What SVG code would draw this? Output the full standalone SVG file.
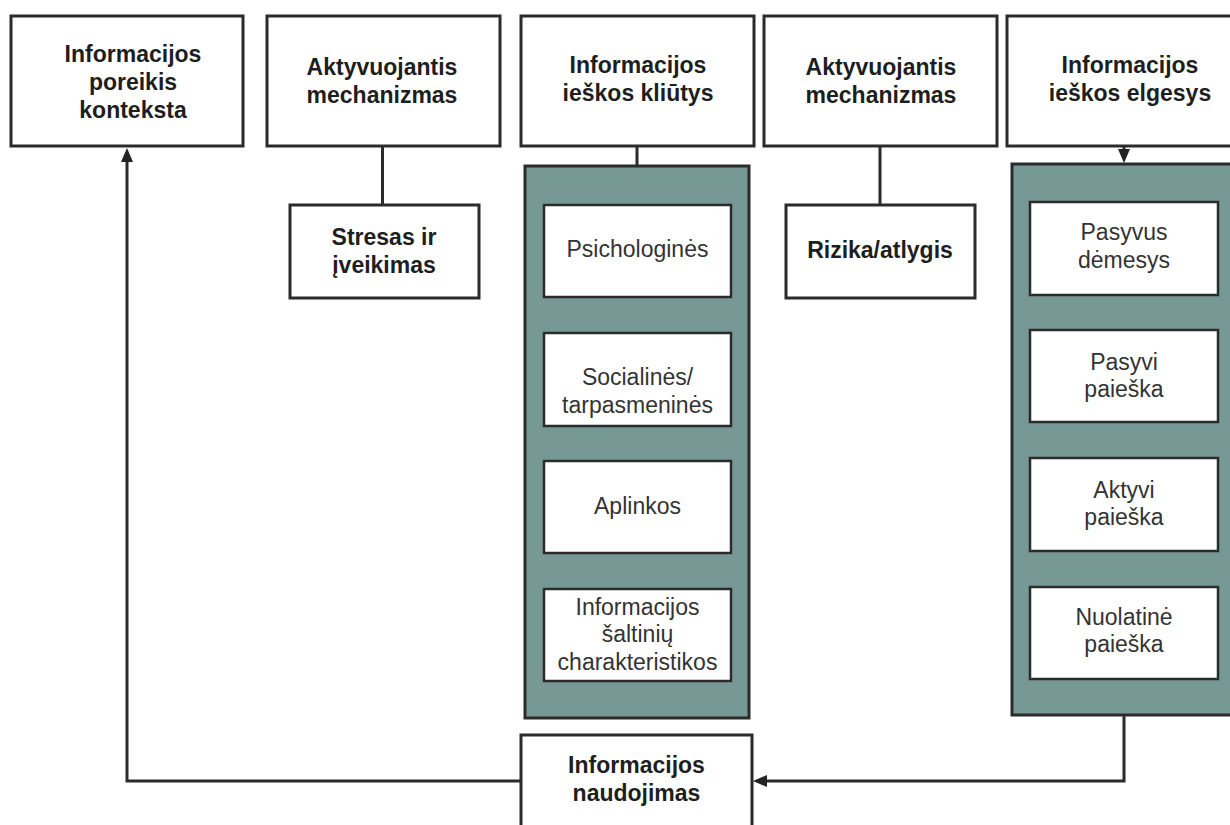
<svg xmlns="http://www.w3.org/2000/svg" width="1230" height="825" viewBox="0 0 1230 825">
<style>
.box{fill:#fff;stroke:#2b2b2b;stroke-width:3}
.teal{fill:#769996;stroke:#2b2b2b;stroke-width:3}
.inner{fill:#fff;stroke:#2b2b2b;stroke-width:2.5}
.h{font-family:"Liberation Sans",Arial,sans-serif;font-weight:bold;font-size:23px;fill:#1e1e1e;text-anchor:middle}
.t{font-family:"Liberation Sans",Arial,sans-serif;font-size:23px;fill:#333;text-anchor:middle}
.c{fill:none;stroke:#2b2b2b;stroke-width:3}
</style>
<defs>
<marker id="arr" markerWidth="16" markerHeight="14" refX="10" refY="6" orient="auto" markerUnits="userSpaceOnUse">
<path d="M0,0 L14,6 L0,12 z" fill="#222"/>
</marker>
</defs>
<rect width="1230" height="825" fill="#fff"/>

<g id="connectors">
<line class="c" x1="382.5" y1="146" x2="382.5" y2="205"/>
<line class="c" x1="637" y1="146" x2="637" y2="166"/>
<line class="c" x1="880" y1="146" x2="880" y2="205"/>
<path class="c" d="M1124 146 V159" marker-end="url(#arr)"/>
<path class="c" d="M1124 715 V781 H757" marker-end="url(#arr)"/>
<path class="c" d="M521 781 H127 V152" marker-end="url(#arr)"/>
</g>

<g id="n-poreikis">
<rect class="box" x="11" y="16" width="232" height="130"/>
<text class="h" x="133" y="62">Informacijos</text>
<text class="h" x="133" y="90">poreikis</text>
<text class="h" x="133" y="118">konteksta</text>
</g>

<g id="n-aktyv1">
<rect class="box" x="267" y="16" width="233" height="130"/>
<text class="h" x="382" y="75">Aktyvuojantis</text>
<text class="h" x="382" y="103">mechanizmas</text>
</g>

<g id="n-stresas">
<rect class="box" x="290" y="205" width="189" height="93"/>
<text class="h" x="384" y="245">Stresas ir</text>
<text class="h" x="384" y="273">įveikimas</text>
</g>

<g id="n-kliutys">
<rect class="box" x="521" y="16" width="233" height="130"/>
<text class="h" x="638" y="73">Informacijos</text>
<text class="h" x="638" y="101">ieškos kliūtys</text>
</g>

<g id="n-kliutys-group">
<rect class="teal" x="525" y="166" width="224" height="552"/>
</g>
<g id="n-psich">
<rect class="inner" x="544" y="205" width="187" height="92"/>
<text class="t" x="637.5" y="257">Psichologinės</text>
</g>
<g id="n-social">
<rect class="inner" x="544" y="333" width="187" height="93"/>
<text class="t" x="637.5" y="385">Socialinės/</text>
<text class="t" x="637.5" y="413">tarpasmeninės</text>
</g>
<g id="n-aplinkos">
<rect class="inner" x="544" y="461" width="187" height="92"/>
<text class="t" x="637.5" y="514">Aplinkos</text>
</g>
<g id="n-saltiniai">
<rect class="inner" x="544" y="589" width="187" height="92"/>
<text class="t" x="637.5" y="615">Informacijos</text>
<text class="t" x="637.5" y="642">šaltinių</text>
<text class="t" x="637.5" y="670">charakteristikos</text>
</g>

<g id="n-aktyv2">
<rect class="box" x="764" y="16" width="233" height="130"/>
<text class="h" x="881" y="75">Aktyvuojantis</text>
<text class="h" x="881" y="103">mechanizmas</text>
</g>

<g id="n-rizika">
<rect class="box" x="786" y="205" width="189" height="93"/>
<text class="h" x="880" y="258">Rizika/atlygis</text>
</g>

<g id="n-elgesys">
<rect class="box" x="1007" y="16" width="260" height="130"/>
<text class="h" x="1130" y="73">Informacijos</text>
<text class="h" x="1130" y="101">ieškos elgesys</text>
</g>

<g id="n-elgesys-group">
<rect class="teal" x="1012" y="164" width="260" height="551"/>
</g>
<g id="n-pasyvus">
<rect class="inner" x="1030" y="202" width="188" height="93"/>
<text class="t" x="1124" y="240">Pasyvus</text>
<text class="t" x="1124" y="268">dėmesys</text>
</g>
<g id="n-pasyvi">
<rect class="inner" x="1030" y="330" width="188" height="92"/>
<text class="t" x="1124" y="370">Pasyvi</text>
<text class="t" x="1124" y="397">paieška</text>
</g>
<g id="n-aktyvi">
<rect class="inner" x="1030" y="458" width="188" height="93"/>
<text class="t" x="1124" y="498">Aktyvi</text>
<text class="t" x="1124" y="525">paieška</text>
</g>
<g id="n-nuolatine">
<rect class="inner" x="1030" y="587" width="188" height="92"/>
<text class="t" x="1124" y="625">Nuolatinė</text>
<text class="t" x="1124" y="652">paieška</text>
</g>

<g id="n-naudojimas">
<rect class="box" x="521" y="735" width="231" height="110"/>
<text class="h" x="636.5" y="773">Informacijos</text>
<text class="h" x="636.5" y="801">naudojimas</text>
</g>
</svg>
